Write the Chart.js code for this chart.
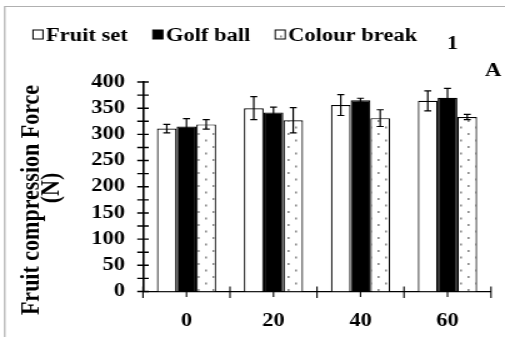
<!DOCTYPE html>
<html><head><meta charset="utf-8">
<script src="https://cdn.jsdelivr.net/npm/chart.js@4/dist/chart.umd.min.js"></script>
<style>
html,body{margin:0;padding:0;background:#fff;overflow:hidden;}
#wrap{position:absolute;left:0;top:0;width:404px;height:337px;transform:scaleX(1.25);transform-origin:0 0;}
canvas{display:block;}
</style></head><body>
<div id="wrap"><canvas id="c" width="404" height="337"></canvas></div>
<script>
// ---- data ----
const categories = ['0', '20', '40', '60'];
const seriesNames = ['Fruit set', 'Golf ball', 'Colour break'];
const fruitSet = [311, 350, 356, 364];
const golfBall = [315, 342, 365, 370];
const colourBreak = [319, 327, 331, 333];
const errFruitSet = [8, 22, 20, 19];
const errGolfBall = [15, 10, 4, 18];
const errColourBreak = [9, 24, 16, 5];
const yMin = 0, yMax = 400, yStep = 50, yMinorStep = 25;
const yTitle = ['Fruit compression Force', '(N)'];
const panelNumber = '1';
const panelLetter = 'A';

const errors = [errFruitSet, errGolfBall, errColourBreak];
const FONT = '"Liberation Serif","Times New Roman",Times,serif';

const canvas = document.getElementById('c');
const ctx = canvas.getContext('2d');

function dotPattern() {
  const t = document.createElement('canvas');
  t.width = 12; t.height = 13;
  const g = t.getContext('2d');
  g.fillStyle = '#fff'; g.fillRect(0, 0, 12, 13);
  g.fillStyle = '#8c8c8c';
  g.fillRect(2, 3, 1.6, 2);
  g.fillRect(8, 9.5, 1.6, 2);
  return ctx.createPattern(t, 'repeat');
}
const dots = dotPattern();

const decor = {
  id: 'decor',
  afterDatasetsDraw(chart) {
    const c = chart.ctx, y = chart.scales.y;
    c.save();
    c.strokeStyle = '#000'; c.lineWidth = 1.2;
    chart.data.datasets.forEach((ds, di) => {
      const meta = chart.getDatasetMeta(di);
      meta.data.forEach((bar, i) => {
        const v = ds.data[i], e = errors[di][i];
        const t = y.getPixelForValue(v + e), b = y.getPixelForValue(v - e);
        const x = bar.x, h = 2.8;
        c.beginPath();
        c.moveTo(x, t); c.lineTo(x, b);
        c.moveTo(x - h, t); c.lineTo(x + h, t);
        c.moveTo(x - h, b); c.lineTo(x + h, b);
        c.stroke();
      });
    });
    c.restore();
  },
  afterDraw(chart) {
    const c = chart.ctx, y = chart.scales.y, xs = chart.scales.x;
    const a = chart.chartArea;
    c.save();
    // frame
    c.strokeStyle = '#b0b0b0'; c.lineWidth = 1.2;
    c.beginPath(); c.moveTo(3.8, 337); c.lineTo(3.8, 6.5); c.lineTo(404, 6.5); c.stroke();
    // y ticks crossing the axis
    c.strokeStyle = '#000'; c.lineWidth = 1.4;
    c.beginPath();
    for (let v = yMin; v <= yMax; v += yMinorStep) {
      const py = y.getPixelForValue(v);
      c.moveTo(a.left - 4.6, py); c.lineTo(a.left + 4.6, py);
    }
    c.stroke();
    // x ticks: boundaries crossing, centres below
    c.lineWidth = 1.1;
    c.beginPath();
    const n = categories.length;
    for (let i = 0; i <= n; i++) {
      const px = a.left + (a.right - a.left) * i / n;
      c.moveTo(px, a.bottom - 5); c.lineTo(px, a.bottom + 6.5);
    }
    for (let i = 0; i < n; i++) {
      const px = xs.getPixelForValue(i);
      c.moveTo(px, a.bottom); c.lineTo(px, a.bottom + 5.5);
    }
    c.stroke();
    // legend
    c.font = 'bold 18px ' + FONT;
    c.textBaseline = 'alphabetic'; c.textAlign = 'left';
    let lx = 26.4;
    chart.data.datasets.forEach((ds) => {
      c.fillStyle = ds.backgroundColor;
      c.fillRect(lx, 30, 8, 9);
      c.strokeStyle = '#000'; c.lineWidth = 1;
      c.strokeRect(lx, 30, 8, 9);
      c.fillStyle = '#000';
      c.fillText(ds.label, lx + 10.4, 41);
      lx += 10.4 + c.measureText(ds.label).width + 20;
    });
    // panel labels
    c.textAlign = 'center';
    c.fillText(panelNumber, 362, 48.5);
    c.fillText(panelLetter, 394.5, 76);
    // y title
    c.font = 'bold 22px ' + FONT;
    c.textBaseline = 'middle';
    c.save(); c.translate(25.5, 200); c.rotate(-Math.PI / 2); c.fillText(yTitle[0], 0, 0); c.restore();
    c.save(); c.translate(41, 188); c.rotate(-Math.PI / 2); c.fillText(yTitle[1], 0, 0); c.restore();
    c.restore();
  }
};

new Chart(canvas, {
  type: 'bar',
  data: {
    labels: categories,
    datasets: [
      { label: seriesNames[0], data: fruitSet, backgroundColor: '#ffffff', borderColor: '#000', borderWidth: 1.2 },
      { label: seriesNames[1], data: golfBall, backgroundColor: '#000000', borderColor: '#000', borderWidth: 1.2 },
      { label: seriesNames[2], data: colourBreak, backgroundColor: dots, borderColor: '#000', borderWidth: 1.2 }
    ]
  },
  options: {
    responsive: false,
    animation: false,
    devicePixelRatio: 1,
    layout: { padding: { left: 0, right: 11.2, top: 82, bottom: 0 } },
    categoryPercentage: 0.68,
    barPercentage: 1.0,
    plugins: { legend: { display: false }, tooltip: { enabled: false } },
    scales: {
      x: {
        grid: { display: false, drawTicks: false },
        border: { display: true, color: '#000', width: 1.2 },
        ticks: { color: '#000', padding: 19, font: { family: FONT, size: 18, weight: 'bold' } },
        afterFit(s) { s.height = 45.5; }
      },
      y: {
        min: yMin, max: yMax,
        grid: { display: false, drawTicks: false },
        border: { display: true, color: '#000', width: 1.6 },
        ticks: { stepSize: yStep, color: '#000', padding: 14.4, font: { family: FONT, size: 18, weight: 'bold' } },
        afterFit(s) { s.width = 114.4; }
      }
    }
  },
  plugins: [decor]
});
</script>
</body></html>
